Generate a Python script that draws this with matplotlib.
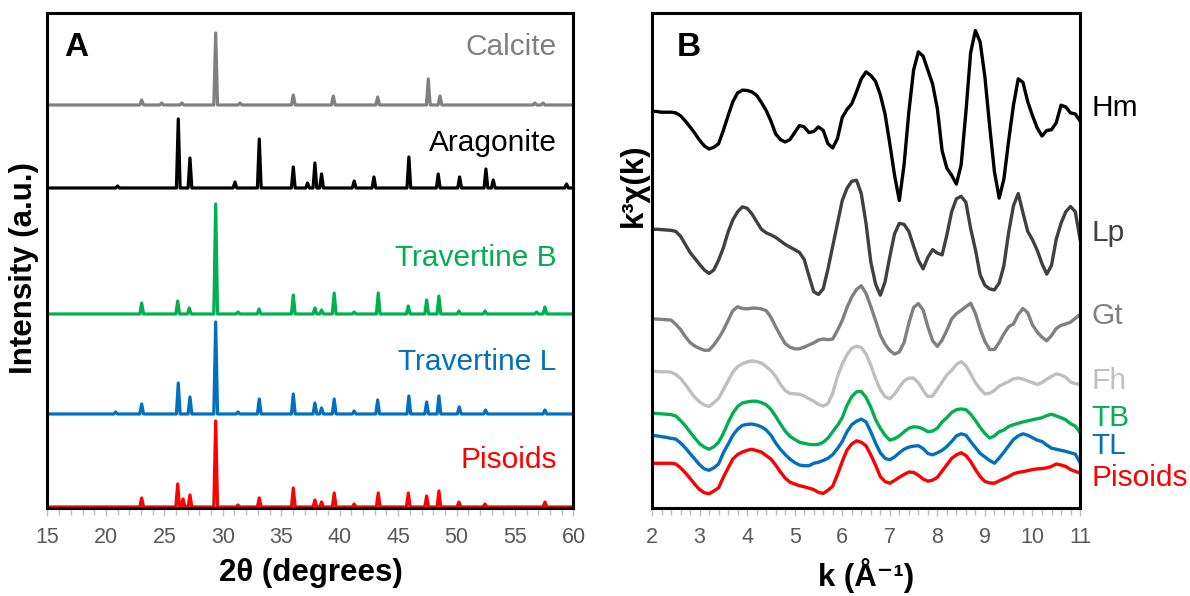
import numpy as np
import matplotlib
matplotlib.use("Agg")
import matplotlib.pyplot as plt
from matplotlib.ticker import MultipleLocator

plt.rcParams['font.family'] = ['Liberation Sans', 'DejaVu Sans']

# ---- panel A: XRD, peak positions (2theta) and heights (a.u.) ----
xrd_names = ['Calcite', 'Aragonite', 'Travertine B', 'Travertine L', 'Pisoids']
xrd_colors = ['#808080', '#000000', '#00b050', '#0070c0', '#ff0000']
xrd_base = [403, 320, 194, 94, 1]

calcite_pos = [23.06, 24.77, 26.5, 29.39, 31.47, 36.03, 39.45, 43.25, 47.58, 48.58, 56.7, 57.4]
calcite_h = [5, 2, 2, 72, 2, 10, 9, 8, 26, 9, 2, 2]
aragonite_pos = [21.0, 26.19, 27.19, 31.04, 33.12, 36.03, 37.25, 37.88, 38.45, 41.24, 42.93,
                 45.92, 48.43, 50.26, 52.51, 53.14, 59.41]
aragonite_h = [2, 69, 30, 6, 49, 21, 5, 25, 14, 7, 11, 31, 14, 11, 19, 8, 4]
travb_pos = [23.06, 26.14, 27.13, 29.39, 31.3, 33.1, 36.03, 37.88, 38.45, 39.53, 41.24, 43.3,
             45.87, 47.44, 48.49, 50.2, 52.43, 56.85, 57.56]
travb_h = [11, 13, 6, 110, 2, 5, 19, 6, 4, 21, 2, 21, 8, 14, 18, 3, 3, 2, 7]
travl_pos = [20.83, 23.06, 26.19, 27.19, 29.39, 31.3, 33.12, 36.03, 37.88, 38.45, 39.53, 41.24,
             43.25, 45.92, 47.44, 48.49, 50.23, 52.48, 57.56]
travl_h = [2, 10, 31, 17, 92, 2, 15, 20, 11, 6, 15, 3, 14, 18, 12, 18, 7, 4, 4]
pis_pos = [23.06, 26.14, 26.6, 27.19, 29.39, 31.3, 33.12, 36.03, 37.88, 38.45, 39.53, 41.24,
           43.3, 45.87, 47.44, 48.49, 50.2, 52.43, 57.56]
pis_h = [9, 23, 8, 12, 86, 2, 9, 19, 7, 5, 14, 3, 14, 14, 11, 16, 5, 3, 5]

xrd_peaks = [(calcite_pos, calcite_h), (aragonite_pos, aragonite_h), (travb_pos, travb_h),
             (travl_pos, travl_h), (pis_pos, pis_h)]

# ---- panel B: EXAFS k3chi(k), k = 2..11 step 0.1 ----
k = np.linspace(2, 11, 91)
hm = [2, 2, 0, 0, 0, -2, -10, -25, -42, -60,
      -80, -96, -105, -100, -90, -52, -10, 30, 55, 63,
      62, 58, 48, 28, 5, -25, -62, -78, -85, -78,
      -58, -38, -42, -58, -55, -42, -52, -90, -102, -75,
      -15, 8, 24, 58, 95, 115, 105, 88, 50, -5,
      -90, -180, -252, -150, 0, 120, 172, 160, 120, 80,
      10, -110, -160, -180, -205, -150, 0, 170, 233, 200,
      100, -40, -170, -245, -190, -80, 20, 95, 85, 30,
      -10, -45, -68, -52, -50, -30, 20, 15, -2, -5,
      -25]
lp = [0, 0, -1, -2, -3, -6, -20, -43, -66, -83,
      -100, -116, -126, -116, -88, -53, -8, 27, 50, 64,
      60, 44, 22, 0, -10, -16, -23, -33, -43, -51,
      -58, -66, -86, -133, -178, -186, -170, -113, -48, 17,
      82, 117, 137, 140, 102, 17, -93, -156, -188, -150,
      -78, -13, 17, 14, -6, -48, -88, -113, -80, -58,
      -68, -73, -16, 50, 87, 94, 77, 2, -58, -130,
      -160, -170, -173, -153, -103, -8, 67, 102, 47, -6,
      -30, -60, -98, -128, -103, -28, 17, 50, 65, 50,
      -28]
gt = [0, 0, -1, -2, -3, -15, -30, -50, -67, -77,
      -84, -89, -89, -74, -55, -32, -4, 24, 35, 30,
      29, 31, 31, 29, 24, 5, -22, -47, -70, -80,
      -85, -85, -80, -74, -68, -60, -57, -59, -57, -32,
      -4, 33, 63, 84, 95, 73, 36, -4, -46, -72,
      -90, -100, -94, -67, -12, 33, 44, 26, -22, -62,
      -78, -60, -32, 0, 15, 25, 35, 45, 16, -28,
      -64, -87, -87, -67, -42, -22, -14, 13, 30, 18,
      -17, -37, -52, -62, -47, -27, -18, -14, -9, 2,
      13]
fh = [0, 0, -1, -1, -2, -9, -20, -37, -56, -74,
      -87, -96, -100, -89, -77, -52, -27, -2, 14, 22,
      27, 30, 28, 24, 14, 2, -14, -37, -54, -63,
      -64, -65, -70, -78, -85, -94, -99, -92, -62, -14,
      21, 48, 66, 72, 68, 50, 18, -20, -52, -72,
      -78, -65, -45, -27, -19, -19, -32, -54, -72, -70,
      -50, -30, -10, 3, 20, 28, 16, -7, -32, -50,
      -64, -62, -54, -42, -35, -29, -21, -19, -22, -27,
      -32, -37, -32, -22, -14, -7, -10, -17, -30, -35,
      -37]
tb = [0, -1, -2, -3, -4, -8, -21, -36, -54, -71,
      -87, -97, -103, -96, -83, -58, -27, 0, 19, 29,
      32, 34, 34, 30, 24, 11, -9, -31, -51, -66,
      -75, -83, -86, -89, -90, -89, -83, -71, -53, -35,
      -13, 22, 47, 61, 62, 45, 17, -18, -43, -63,
      -77, -73, -65, -53, -43, -39, -40, -45, -53, -51,
      -43, -25, -13, 2, 10, 12, 10, -3, -21, -41,
      -58, -71, -65, -53, -48, -38, -33, -29, -25, -22,
      -19, -16, -13, -7, -3, -8, -13, -19, -30, -37,
      -55]
tl = [0, -2, -4, -6, -9, -11, -22, -36, -52, -68,
      -84, -96, -100, -93, -82, -50, -26, 0, 17, 28,
      31, 32, 29, 24, 15, 0, -22, -40, -55, -68,
      -78, -85, -87, -87, -80, -77, -72, -66, -55, -38,
      -18, 10, 30, 40, 46, 38, 10, -22, -50, -66,
      -70, -62, -50, -40, -34, -31, -30, -38, -52, -56,
      -50, -43, -32, -18, -2, 4, 0, -18, -35, -52,
      -62, -72, -80, -65, -48, -30, -12, -2, 4, 0,
      -7, -14, -18, -28, -37, -40, -43, -46, -50, -54,
      -78]
pisoids = [0, 0, 0, 0, 0, -2, -13, -27, -43, -60,
           -75, -84, -87, -79, -70, -40, -13, 12, 25, 32,
           37, 40, 36, 32, 22, 12, -5, -25, -42, -54,
           -59, -64, -67, -71, -75, -83, -86, -77, -65, -32,
           5, 38, 55, 64, 60, 50, 24, -5, -38, -52,
           -57, -49, -40, -32, -25, -26, -34, -45, -51, -48,
           -40, -22, -4, 14, 24, 30, 22, 5, -18, -38,
           -52, -56, -57, -50, -44, -38, -30, -26, -24, -21,
           -18, -16, -15, -13, -9, -2, -5, -9, -18, -23,
           -28]

exafs_names = ['Hm', 'Lp', 'Gt', 'Fh', 'TB', 'TL', 'Pisoids']
exafs_data = [hm, lp, gt, fh, tb, tl, pisoids]
exafs_offset = [1129, 795, 539, 389.5, 270.5, 207.5, 127.5]
exafs_colors = ['#000000', '#404040', '#808080', '#bfbfbf', '#00b050', '#0070c0', '#ff0000']
exafs_label_y = [0.808, 0.556, 0.388, 0.257, 0.182, 0.125, 0.061]

fig = plt.figure(figsize=(11.9, 5.96), dpi=100)
axA = fig.add_axes([0.0399, 0.1477, 0.442, 0.8305])
axB = fig.add_axes([0.5479, 0.1477, 0.3597, 0.8305])

hw = 0.16
for (pos, h), base, col in zip(xrd_peaks, xrd_base, xrd_colors):
    xs, ys = [15], [base]
    for p, hh in sorted(zip(pos, h)):
        xs += [p - hw, p, p + hw]
        ys += [base, base + hh, base]
    xs.append(60)
    ys.append(base)
    axA.plot(xs, ys, color=col, lw=2.3, solid_joinstyle='round')

axA.set_xlim(15, 60)
axA.set_ylim(0, 495)
label_y = [0.931, 0.737, 0.505, 0.295, 0.097]
for name, col, ly in zip(xrd_names, xrd_colors, label_y):
    axA.text(0.968, ly, name, color=col, fontsize=21.5, ha='right', va='center',
             transform=axA.transAxes)
axA.text(0.031, 0.93, 'A', fontsize=24, fontweight='bold', va='center', transform=axA.transAxes)
axA.xaxis.set_major_locator(MultipleLocator(5))
axA.xaxis.set_minor_locator(MultipleLocator(1))
axA.set_xlabel('2θ (degrees)', fontsize=22.5, fontweight='bold', labelpad=7)

for vals, off, col in zip(exafs_data, exafs_offset, exafs_colors):
    axB.plot(k, np.array(vals) + off, color=col, lw=2.4, solid_joinstyle='round')
axB.set_xlim(2, 11)
axB.set_ylim(0, 1412)
for name, col, ly in zip(exafs_names, exafs_colors, exafs_label_y):
    axB.text(1.026, ly, name, color=col, fontsize=21.5, ha='left', va='center',
             transform=axB.transAxes)
axB.text(0.058, 0.93, 'B', fontsize=24, fontweight='bold', va='center', transform=axB.transAxes)
axB.xaxis.set_major_locator(MultipleLocator(1))
axB.xaxis.set_minor_locator(MultipleLocator(0.2))
axB.set_xlabel('k (Å⁻¹)', fontsize=22.5, fontweight='bold', labelpad=7)

for ax in (axA, axB):
    ax.set_yticks([])
    for s in ax.spines.values():
        s.set_linewidth(2.2)
        s.set_color('black')
    ax.tick_params(axis='x', which='both', direction='out', color='#bfbfbf', width=1,
                   labelsize=15.5, labelcolor='#595959', pad=8)
    ax.tick_params(axis='x', which='major', length=6)
    ax.tick_params(axis='x', which='minor', length=5)

fig.text(0.02, 0.55, 'Intensity (a.u.)', rotation=90, fontsize=22.5, fontweight='bold',
         ha='center', va='center')
fig.text(0.533, 0.69, 'k³χ(k)', rotation=90, fontsize=22.5, fontweight='bold',
         ha='center', va='center')

fig.savefig('out.png', dpi=100)
